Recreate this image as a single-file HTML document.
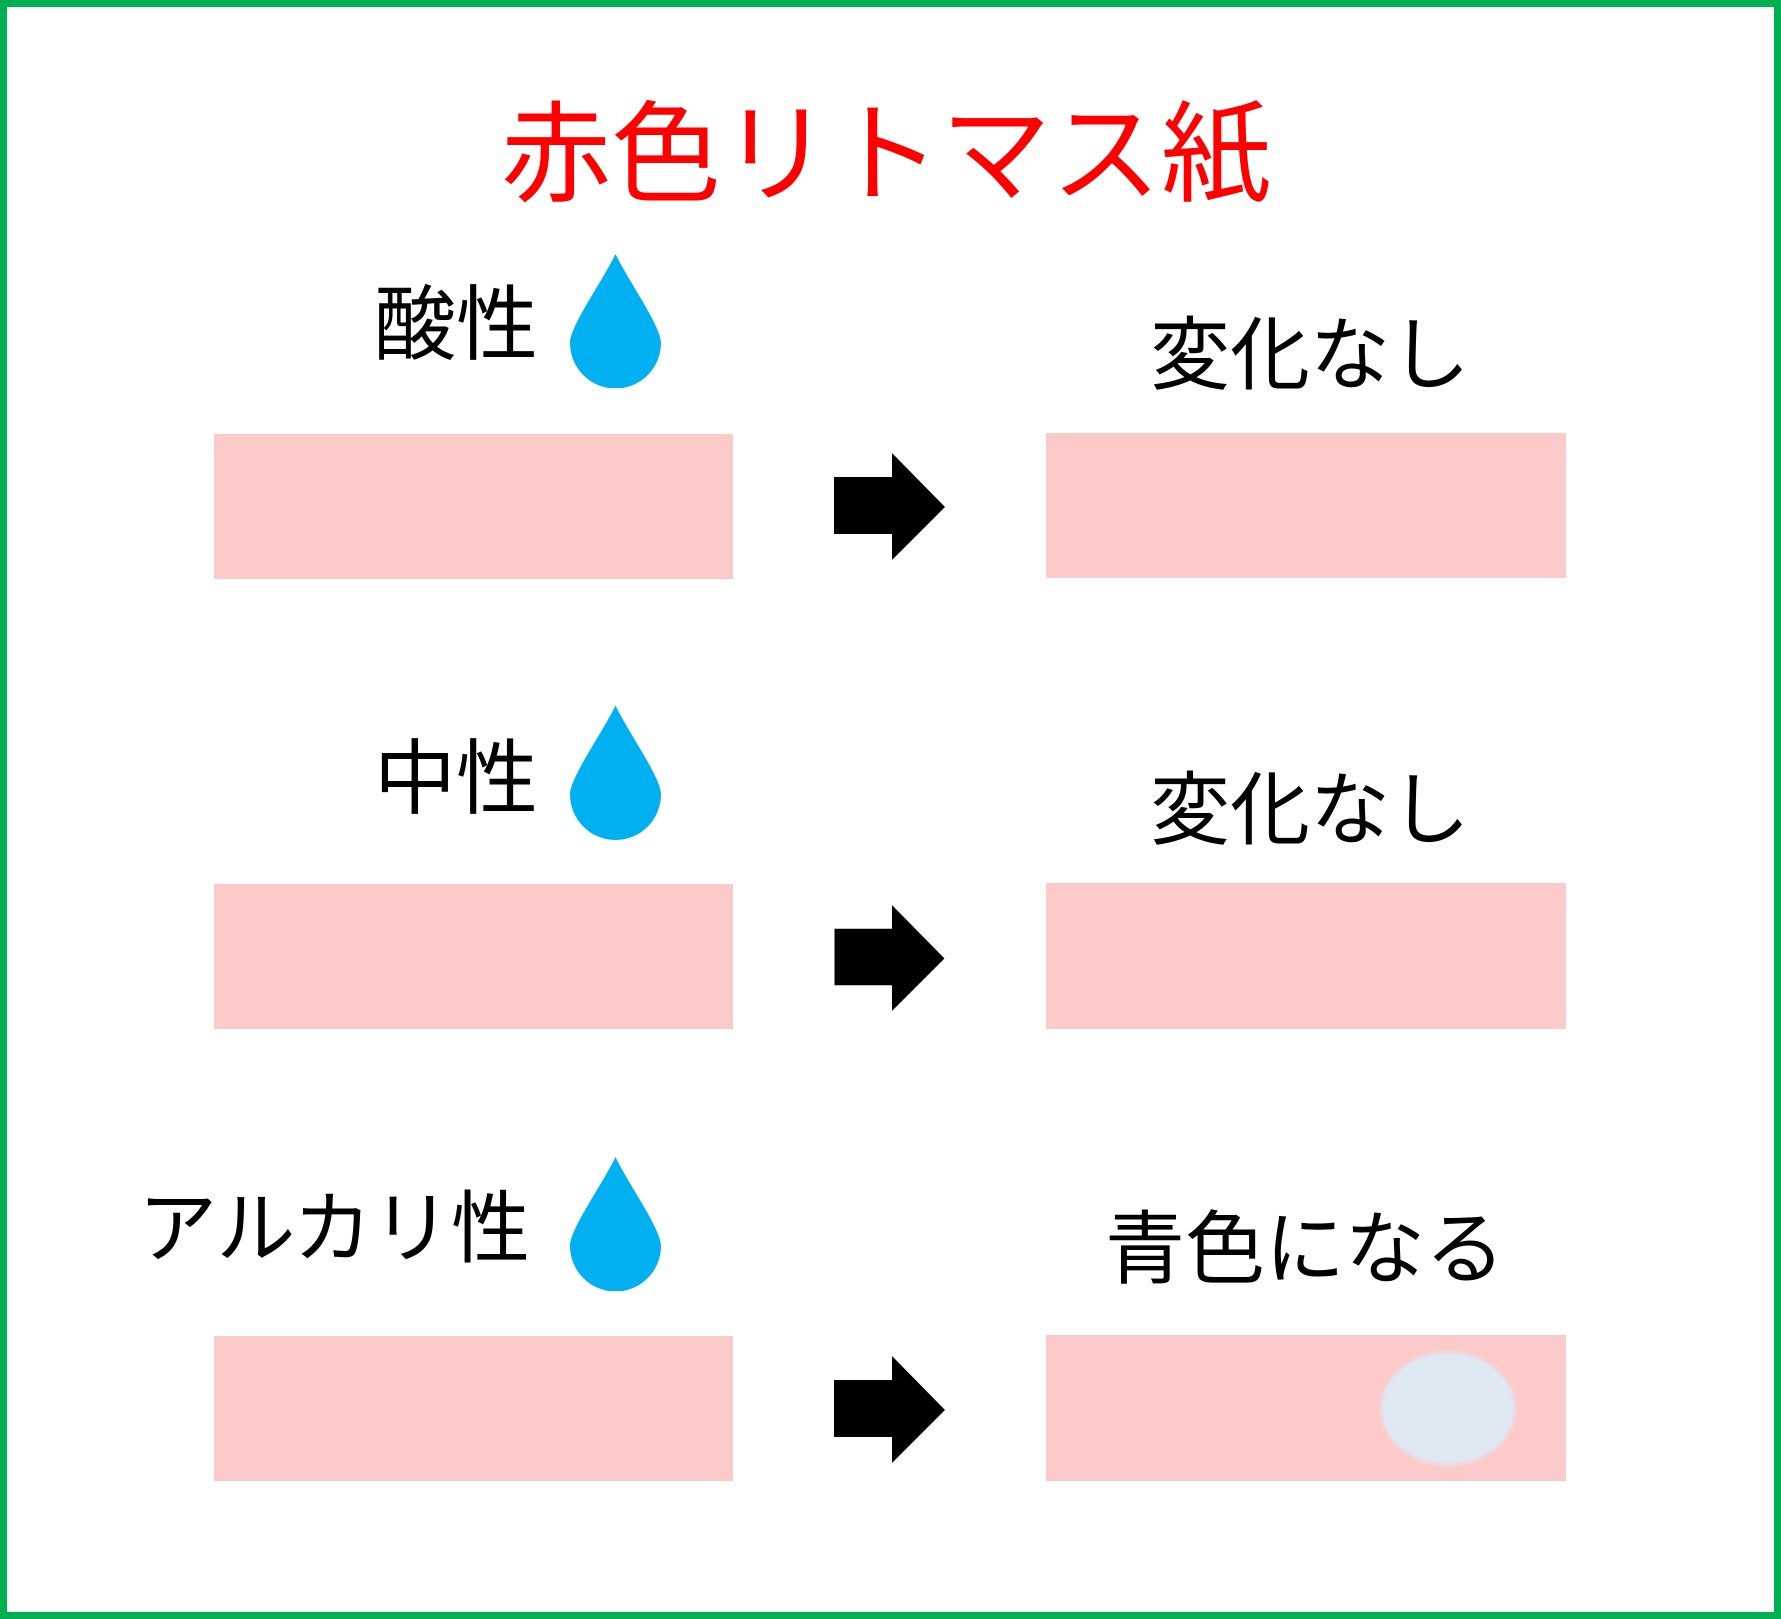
<!DOCTYPE html>
<html><head><meta charset="utf-8"><style>
*{margin:0;padding:0;box-sizing:border-box}
body{width:1781px;height:1619px;background:#fff;position:relative;overflow:hidden;font-family:"Liberation Sans","Noto Sans CJK JP",sans-serif}
.frame{position:absolute;left:0;top:0;width:1781px;height:1619px;border:7px solid #00B050}
.t{position:absolute;line-height:1;white-space:nowrap;color:#000}
.rect{position:absolute;background:#FDCACA}
svg{position:absolute}
</style></head><body>
<div class="frame"></div>
<div class="t" style="left:386px;width:1000px;text-align:center;top:101px;font-size:110px;color:#FF0000">赤色リトマス紙</div>

<div class="t" style="right:1243px;top:285px;font-size:82px">酸性</div>
<div class="t" style="right:1243px;top:739px;font-size:82px">中性</div>
<div class="t" style="right:1251px;top:1189px;font-size:79px">アルカリ性</div>

<div class="t" style="left:1010px;width:600px;text-align:center;top:316px;font-size:80px">変化なし</div>
<div class="t" style="left:1010px;width:600px;text-align:center;top:771px;font-size:80px">変化なし</div>
<div class="t" style="left:1005px;width:600px;text-align:center;top:1210px;font-size:80px">青色になる</div>

<svg style="left:570px;top:254px" width="91" height="134" viewBox="0 0 91 134"><path d="M45.5 0 C32 28 0 72 0 89 A45.5 45.5 0 0 0 91 89 C91 72 59 28 45.5 0Z" fill="#00B0F0"/></svg>
<svg style="left:570px;top:705px" width="91" height="135" viewBox="0 0 91 134"><path d="M45.5 0 C32 28 0 72 0 89 A45.5 45.5 0 0 0 91 89 C91 72 59 28 45.5 0Z" fill="#00B0F0"/></svg>
<svg style="left:570px;top:1157px" width="91" height="134" viewBox="0 0 91 134"><path d="M45.5 0 C32 28 0 72 0 89 A45.5 45.5 0 0 0 91 89 C91 72 59 28 45.5 0Z" fill="#00B0F0"/></svg>

<div class="rect" style="left:214px;top:434px;width:519px;height:145px"></div>
<div class="rect" style="left:214px;top:884px;width:519px;height:145px"></div>
<div class="rect" style="left:214px;top:1336px;width:519px;height:145px"></div>
<div class="rect" style="left:1046px;top:433px;width:520px;height:145px"></div>
<div class="rect" style="left:1046px;top:883px;width:520px;height:146px"></div>
<div class="rect" style="left:1046px;top:1335px;width:520px;height:146px;overflow:hidden">
  <div style="position:absolute;left:335px;top:17px;width:134px;height:113px;border-radius:50%;background:#DEE8F3;filter:blur(2px)"></div>
</div>

<svg style="left:834px;top:453px" width="111" height="107" viewBox="0 0 111 107"><path d="M0 24 H58 V0 L111 54 L58 107 V81 H0Z" fill="#000"/></svg>
<svg style="left:834px;top:905px" width="111" height="106" viewBox="0 0 111 107"><path d="M0 24 H58 V0 L111 54 L58 107 V81 H0Z" fill="#000"/></svg>
<svg style="left:834px;top:1356px" width="111" height="107" viewBox="0 0 111 107"><path d="M0 24 H58 V0 L111 54 L58 107 V81 H0Z" fill="#000"/></svg>
</body></html>
